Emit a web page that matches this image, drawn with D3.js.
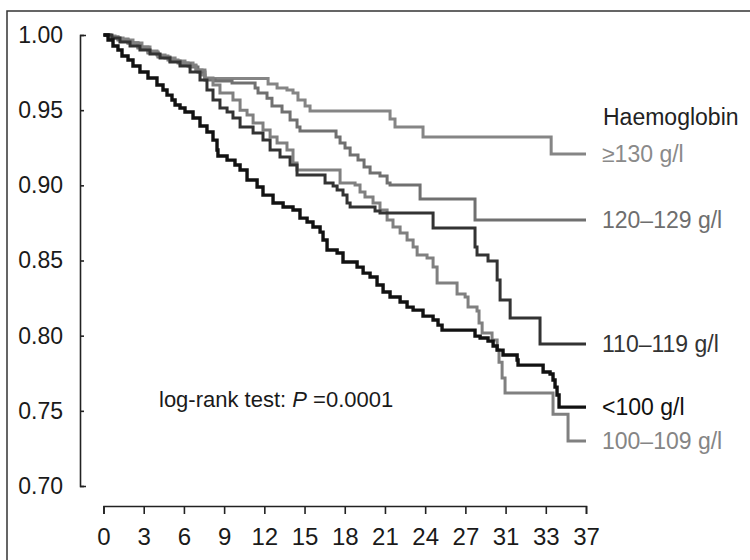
<!DOCTYPE html>
<html>
<head>
<meta charset="utf-8">
<script src="https://cdn.jsdelivr.net/npm/d3@7"></script>
<style>
  html, body { margin: 0; padding: 0; background: #fff; }
  svg { display: block; font-family: "Liberation Sans", Arial, Helvetica, sans-serif; }
</style>
</head>
<body>
<svg id="km_chart"></svg>
<script>
// x 轴刻度位置和标签（原图的标签不是等差的）
const xTickValues = [0, 3, 6, 9, 12, 15, 18, 21, 24, 27, 30, 33, 36];
const xTickLabels = ["0", "3", "6", "9", "12", "15", "18", "21", "24", "27", "31", "33", "37"];
const yTickValues = [0.70, 0.75, 0.80, 0.85, 0.90, 0.95, 1.00];

const groupNames = ["\u2265130 g/l", "120\u2013129 g/l", "110\u2013119 g/l", "<100 g/l", "100\u2013109 g/l"];

// 各组生存曲线 [时间, 生存率]（阶梯）
const hb130 = [
  [0, 1], [0.34, 0.9993], [0.86, 0.998], [1.46, 0.9967], [2.2, 0.9947], [2.87, 0.992],
  [3.47, 0.9894], [3.99, 0.9867], [4.59, 0.9847], [5.34, 0.9827], [6.08, 0.9814],
  [6.68, 0.980], [6.9, 0.9767], [7.35, 0.9734], [7.57, 0.9711], [12.28, 0.9674],
  [12.95, 0.9647], [13.69, 0.9634], [14.14, 0.9614], [14.51, 0.9568], [15.04, 0.9528],
  [15.41, 0.9494], [21.38, 0.9441], [21.75, 0.9388], [23.84, 0.9321], [33.4, 0.9208],
  [36, 0.9208]
];
const hb120 = [
  [0, 1], [0.49, 0.9987], [1.08, 0.9967], [1.83, 0.9947], [2.57, 0.9914], [3.32, 0.988],
  [4.07, 0.9854], [4.96, 0.9827], [5.71, 0.9807], [6.46, 0.9787], [7.05, 0.9754],
  [7.57, 0.9701], [8.32, 0.9694], [9.59, 0.968], [11.31, 0.9647], [11.53, 0.9614],
  [12.2, 0.958], [12.57, 0.9528], [13.32, 0.9488], [13.92, 0.9434], [14.44, 0.9388],
  [14.66, 0.9361], [17.35, 0.9321], [17.65, 0.9281], [18.02, 0.9248], [18.4, 0.9202],
  [18.99, 0.9168], [19.44, 0.9122], [19.89, 0.9082], [20.63, 0.9062], [21.16, 0.9015],
  [21.38, 0.9002], [23.62, 0.8909], [27.72, 0.8769], [36, 0.8769]
];
const hb110 = [
  [0, 1], [0.63, 0.998], [1.23, 0.9953], [1.98, 0.9927], [2.72, 0.990], [3.47, 0.9874],
  [4.22, 0.9847], [4.96, 0.982], [5.71, 0.9794], [6.46, 0.9754], [7.2, 0.9701],
  [7.72, 0.9634], [8.17, 0.9568], [8.69, 0.9514], [9.22, 0.9488], [9.66, 0.9448],
  [10.19, 0.9388], [11.16, 0.9348], [11.9, 0.9301], [12.43, 0.9235], [13.17, 0.9188],
  [13.92, 0.9135], [14.44, 0.9069], [16.53, 0.9015], [17.13, 0.8995], [17.43, 0.8969],
  [17.87, 0.8935], [18.17, 0.8882], [18.4, 0.8856], [20.26, 0.8829], [20.63, 0.8816],
  [24.59, 0.8716], [27.72, 0.8589], [27.87, 0.8536], [28.69, 0.8496], [29.37, 0.837],
  [29.59, 0.8237], [30.34, 0.8117], [32.57, 0.7944], [36, 0.7944]
];
const hbLow = [
  [0, 1], [0.34, 0.9967], [0.71, 0.9927], [1.08, 0.990], [1.38, 0.986], [1.83, 0.9834],
  [2.2, 0.9794], [2.72, 0.9754], [3.32, 0.9714], [3.99, 0.9667], [4.44, 0.9634],
  [4.74, 0.960], [5.11, 0.9568], [5.34, 0.9534], [5.71, 0.9514], [6.08, 0.9488],
  [6.68, 0.9448], [7.2, 0.9395], [7.72, 0.9355], [8.17, 0.9301], [8.47, 0.9235],
  [8.54, 0.9195], [9.22, 0.9168], [9.81, 0.9135], [10.19, 0.9102], [10.71, 0.9035],
  [11.46, 0.8989], [11.9, 0.8935], [12.65, 0.8882], [13.4, 0.8856], [14.14, 0.8836],
  [14.66, 0.8782], [15.19, 0.8756], [15.63, 0.8723], [16.16, 0.8689], [16.38, 0.8636],
  [16.68, 0.857], [17.43, 0.855], [17.87, 0.849], [18.92, 0.8456], [19.37, 0.8416],
  [19.89, 0.839], [20.41, 0.8337], [20.86, 0.829], [21.38, 0.8257], [22.13, 0.8224],
  [22.65, 0.819], [23.1, 0.817], [23.84, 0.813], [24.59, 0.8104], [24.96, 0.807],
  [25.26, 0.8037], [27.72, 0.7997], [28.1, 0.7984], [28.69, 0.7964], [29.07, 0.7931],
  [29.37, 0.7904], [29.81, 0.7871], [30.86, 0.7838], [30.93, 0.7804], [32.8, 0.7758],
  [33.32, 0.7745], [33.54, 0.7705], [33.69, 0.7658], [33.84, 0.7605], [33.99, 0.7525],
  [36, 0.7525]
];
const hb100 = [
  [0, 1], [0.49, 0.9987], [1.08, 0.9973], [1.83, 0.9947], [2.57, 0.992], [3.32, 0.9887],
  [4.07, 0.986], [4.81, 0.9834], [5.56, 0.9814], [6.31, 0.9794], [6.9, 0.9767],
  [7.57, 0.9714], [8.17, 0.9667], [8.69, 0.9614], [9.66, 0.9568], [10.19, 0.950],
  [10.71, 0.9468], [11.16, 0.9415], [11.9, 0.9368], [12.43, 0.9321], [12.95, 0.9281],
  [13.69, 0.9235], [14.14, 0.9148], [14.44, 0.9102], [17.65, 0.9015], [18.77, 0.9002],
  [19.14, 0.8955], [19.51, 0.8922], [20.11, 0.8882], [20.63, 0.8836], [21.16, 0.8769],
  [21.6, 0.8723], [22.13, 0.8683], [22.65, 0.8636], [23.1, 0.859], [23.4, 0.8536],
  [24.14, 0.8516], [24.59, 0.8456], [24.89, 0.835], [26.38, 0.8277], [26.98, 0.8257],
  [27.2, 0.819], [27.87, 0.8164], [28.02, 0.8084], [28.25, 0.8017], [28.99, 0.7971],
  [29.37, 0.7904], [29.51, 0.7824], [29.74, 0.7718], [29.96, 0.7618], [33.54, 0.7478],
  [34.66, 0.7299], [36, 0.7299]
];

document.addEventListener("DOMContentLoaded", function () {
    const width = 750;
    const height = 560;

    const svg = d3.select("#km_chart")
        .attr("width", width)
        .attr("height", height);

    // 外框（只看得到上边和左边）
    svg.append("rect")
        .attr("x", 7)
        .attr("y", 11)
        .attr("width", 800)
        .attr("height", 600)
        .attr("fill", "none")
        .attr("stroke", "#333")
        .attr("stroke-width", 1.5);

    // 比例尺
    const x = d3.scaleLinear().domain([0, 36]).range([103.5, 586]);
    const y = d3.scaleLinear().domain([0.70, 1.00]).range([486, 35]);

    // y 轴（刻度朝内）
    const yAxis = svg.append("g")
        .attr("transform", "translate(80,0)")
        .call(d3.axisLeft(y)
            .tickValues(yTickValues)
            .tickFormat(d3.format(".2f"))
            .tickSizeInner(-4)
            .tickSizeOuter(-6)
            .tickPadding(17));

    // x 轴
    const xAxis = svg.append("g")
        .attr("transform", "translate(0,506)")
        .call(d3.axisBottom(x)
            .tickValues(xTickValues)
            .tickFormat((d, i) => xTickLabels[i])
            .tickSizeInner(8)
            .tickSizeOuter(8)
            .tickPadding(14));

    [yAxis, xAxis].forEach(g => {
        g.selectAll("path, line").attr("stroke", "#222").attr("stroke-width", 1.6);
        g.selectAll("text")
            .attr("fill", "#1a1a1a")
            .style("font-family", "\"Liberation Sans\", Arial, sans-serif");
    });
    yAxis.selectAll("text").attr("font-size", "23px");
    xAxis.selectAll("text").attr("font-size", "24px");

    // 曲线
    const line = d3.line()
        .x(d => x(d[0]))
        .y(d => y(d[1]))
        .curve(d3.curveStepAfter);

    const groups = [
        { name: groupNames[0], data: hb130, color: "#858585", text: "#8a8a8a", width: 3 },
        { name: groupNames[1], data: hb120, color: "#707070", text: "#6e6e6e", width: 3 },
        { name: groupNames[4], data: hb100, color: "#808080", text: "#858585", width: 3 },
        { name: groupNames[2], data: hb110, color: "#333333", text: "#333333", width: 3 },
        { name: groupNames[3], data: hbLow, color: "#111111", text: "#111111", width: 3.4 }
    ];

    groups.forEach(g => {
        svg.append("path")
            .datum(g.data)
            .attr("fill", "none")
            .attr("stroke", g.color)
            .attr("stroke-width", g.width)
            .attr("stroke-linejoin", "miter")
            .attr("d", line);

        // 曲线末端的标签
        const last = g.data[g.data.length - 1];
        svg.append("text")
            .attr("x", 602)
            .attr("y", y(last[1]))
            .attr("dy", "0.35em")
            .attr("font-size", "23px")
            .attr("fill", g.text)
            .text(g.name);
    });

    // 图例标题
    svg.append("text")
        .attr("x", 603)
        .attr("y", y(hb130[hb130.length - 1][1]) - 37)
        .attr("dy", "0.35em")
        .attr("font-size", "23px")
        .attr("fill", "#222")
        .text("Haemoglobin");

    // 检验结果
    const note = svg.append("text")
        .attr("x", 159)
        .attr("y", 407)
        .attr("font-size", "22px")
        .attr("fill", "#1a1a1a");
    note.append("tspan").text("log-rank test: ");
    note.append("tspan").attr("font-style", "italic").text("P");
    note.append("tspan").text(" =0.0001");
});
</script>
</body>
</html>
